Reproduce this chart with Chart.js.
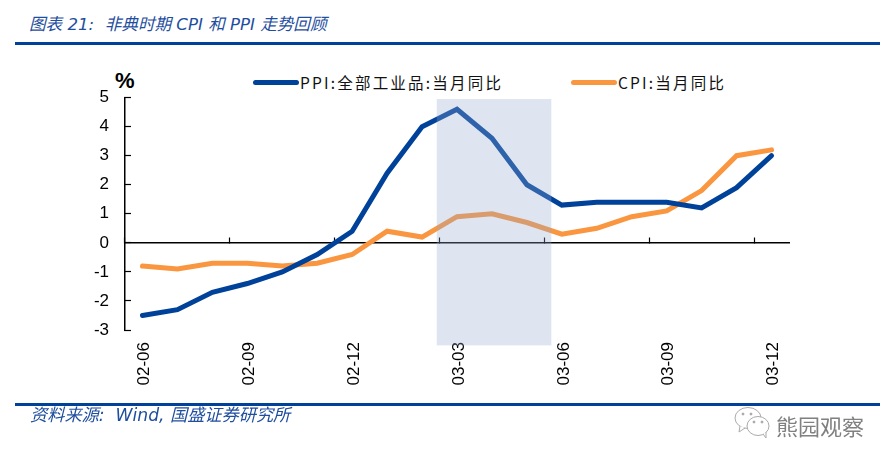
<!DOCTYPE html>
<html>
<head>
<meta charset="utf-8">
<script src="https://cdn.jsdelivr.net/npm/chart.js@4/dist/chart.umd.min.js"></script>
<style>
    html, body { margin: 0; padding: 0; background: #fff; }
    #wrap { position: relative; width: 893px; height: 463px; overflow: hidden; }
    #myChart { position: absolute; left: 0; top: 0; }
    .rule { position: absolute; left: 15px; width: 865px; height: 3px; background: #00429A; }
    .note { position: absolute; color: #1F4E9E; font-style: italic; white-space: nowrap;
            font-family: "DejaVu Sans", "Noto Sans CJK SC", sans-serif; }
    #pct { position: absolute; left: 115px; top: 68px; font: bold 22px "Liberation Sans", sans-serif; color: #000; }
    .legendItem { position: absolute; top: 72px; height: 20px; white-space: nowrap; color: #111;
                  font: 15.5px/20px "Noto Sans CJK SC", sans-serif; letter-spacing: 2.2px; }
    .legendItem i { position: absolute; left: 0; top: 8px; width: 46px; height: 5px; border-radius: 3px; }
    .legendItem span { position: absolute; left: 47px; top: 0; }
    #mark { position: absolute; left: 776px; top: 412px; color: #808080; white-space: nowrap;
            font: 22px "Noto Sans CJK SC", sans-serif; line-height: 26px; }
    #logo { position: absolute; left: 734px; top: 406px; }
</style>
</head>
<body>
<div id="wrap">
    <div class="note" style="left:29px;top:11px;font-size:16.6px;">图表 21:&nbsp; 非典时期 CPI 和 PPI 走势回顾</div>
    <div class="rule" style="top:42px;"></div>
    <div id="pct">%</div>
    <div id="legend"></div>
    <canvas id="myChart" width="893" height="463"></canvas>
    <div class="rule" style="top:403px;"></div>
    <div class="note" style="left:30px;top:401px;font-size:17.2px;">资料来源:&nbsp; Wind, 国盛证券研究所</div>
    <svg id="logo" width="38" height="34" viewBox="0 0 38 34" fill="#fff" stroke="#aaa" stroke-width="1">
        <ellipse cx="14" cy="12" rx="13" ry="10.5"/>
        <path d="M6 20 L5 26 L11 22"/>
        <ellipse cx="24" cy="20" rx="11" ry="9.5"/>
        <path d="M29 28 L32 32 L32 26"/>
        <circle cx="9" cy="8" r="1" fill="#999"/><circle cx="17" cy="8" r="1" fill="#999"/>
        <circle cx="20" cy="16" r="1" fill="#999"/><circle cx="28" cy="16" r="1" fill="#999"/>
    </svg>
    <div id="mark">熊园观察</div>
</div>

<script>
var categories = ['02-06', '02-07', '02-08', '02-09', '02-10', '02-11', '02-12', '03-01', '03-02', '03-03',
    '03-04', '03-05', '03-06', '03-07', '03-08', '03-09', '03-10', '03-11', '03-12'];
var ppiValues = [-2.5, -2.3, -1.7, -1.4, -1.0, -0.4, 0.4, 2.4, 4.0, 4.6, 3.6, 2.0, 1.3, 1.4, 1.4, 1.4, 1.2, 1.9, 3.0];
var cpiValues = [-0.8, -0.9, -0.7, -0.7, -0.8, -0.7, -0.4, 0.4, 0.2, 0.9, 1.0, 0.7, 0.3, 0.5, 0.9, 1.1, 1.8, 3.0, 3.2];
var seriesNames = ['PPI:全部工业品:当月同比', 'CPI:当月同比'];
var seriesColors = ['#00429A', '#F9963F'];
var legendLeft = [253, 571];

// SARS period band, in category index / value units
var bandX = [8.42, 11.7];
var bandY = [-3.53, 4.95];

// band goes over the lines, like the original picture
var bandPlugin = {
    id: 'sarsBand',
    afterDatasetsDraw: function (chart) {
        var x = chart.scales.x, y = chart.scales.y;
        var ctx = chart.ctx;
        var left = x.getPixelForValue(bandX[0]);
        var right = x.getPixelForValue(bandX[1]);
        var top = y.getPixelForValue(bandY[1]);
        var bottom = y.getPixelForValue(bandY[0]);
        ctx.save();
        ctx.fillStyle = 'rgba(150, 170, 210, 0.31)';
        ctx.fillRect(left, top, right - left, bottom - top);
        ctx.restore();
    }
};

Chart.defaults.font.family = '"Liberation Sans", sans-serif';
Chart.defaults.color = '#000';

var myChart = new Chart(document.getElementById('myChart'), {
    type: 'line',
    data: {
        labels: categories,
        datasets: [
            { label: seriesNames[0], data: ppiValues, borderColor: seriesColors[0] },
            { label: seriesNames[1], data: cpiValues, borderColor: seriesColors[1] }
        ]
    },
    options: {
        responsive: false,
        animation: false,
        layout: { padding: { top: 97.6, right: 104, left: 0, bottom: 0 } },
        elements: {
            point: { radius: 0 },
            line: { borderWidth: 5, tension: 0, borderCapStyle: 'round', borderJoinStyle: 'miter' }
        },
        plugins: { legend: { display: false }, tooltip: { enabled: false } },
        scales: {
            x: {
                offset: true,
                position: { y: 0 },
                border: { color: '#000', width: 1.5 },
                grid: {
                    offset: true,
                    drawOnChartArea: false,
                    tickLength: -6,
                    tickWidth: 1.2,
                    tickColor: function (c) { return c.index % 3 === 0 ? '#000' : 'rgba(0,0,0,0)'; }
                },
                ticks: { display: false, autoSkip: false }
            },
            xLabels: {
                axis: 'x',
                type: 'category',
                position: 'bottom',
                offset: true,
                border: { display: false },
                grid: { display: false, drawTicks: false },
                afterFit: function (scale) { scale.height = 133; },
                ticks: {
                    autoSkip: false,
                    minRotation: 90,
                    maxRotation: 90,
                    padding: 12,
                    labelOffset: 2,
                    font: { size: 17 },
                    callback: function (v, i) { return i % 3 === 0 ? categories[i] : ''; }
                }
            },
            y: {
                min: -3,
                max: 5,
                border: { color: '#000', width: 1.5 },
                afterFit: function (scale) { scale.width = 125; },
                grid: { drawOnChartArea: false, tickLength: -6, tickColor: '#000', tickWidth: 1.2 },
                ticks: { stepSize: 1, padding: 22, font: { size: 17 } }
            }
        }
    },
    plugins: [bandPlugin]
});

// legend built from the datasets
myChart.data.datasets.forEach(function (ds, i) {
    var item = document.createElement('div');
    item.className = 'legendItem';
    item.style.left = legendLeft[i] + 'px';
    item.innerHTML = '<i style="background:' + ds.borderColor + '"></i><span>' + ds.label + '</span>';
    document.getElementById('legend').appendChild(item);
});
</script>
</body>
</html>
